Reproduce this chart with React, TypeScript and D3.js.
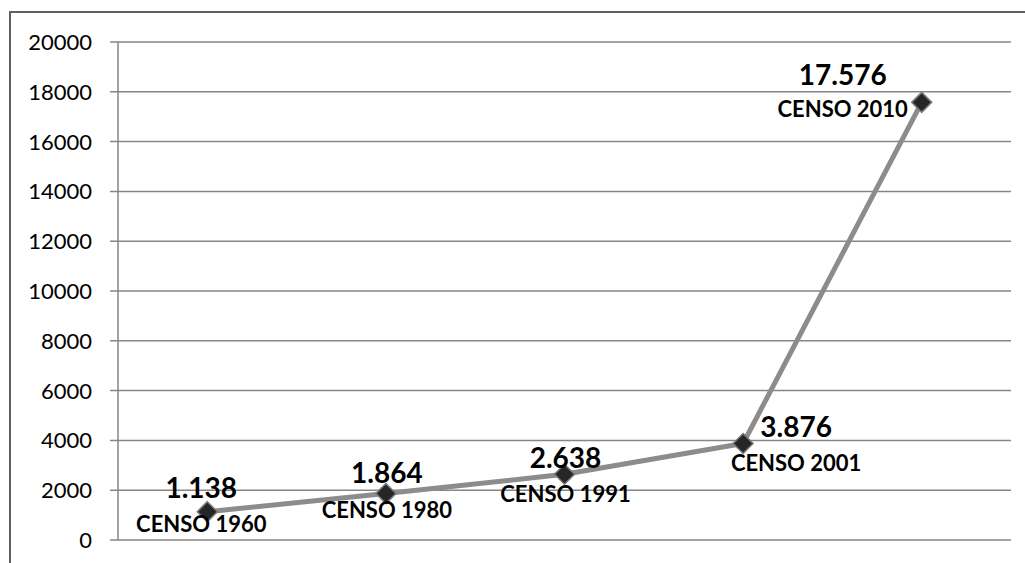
import React from "react";
import * as d3 from "d3";

const categories = ["CENSO 1960", "CENSO 1980", "CENSO 1991", "CENSO 2001", "CENSO 2010"];
const values = [1138, 1864, 2638, 3876, 17576];
const valueLabels = ["1.138", "1.864", "2.638", "3.876", "17.576"];
const yTicks = [0, 2000, 4000, 6000, 8000, 10000, 12000, 14000, 16000, 18000, 20000];

// label placement (layout, relative to each point)
const labelDx = [-6, 1, 1, 53, -79];
const valueDy = [-14, -11, -6, -6.5, -17];
const catDy = [20, 24, 28, 27.5, 15];

export default function App() {
  const W = 1025, H = 563;
  const left = 118, right = 1011, top = 42, bottom = 540;
  const x = d3.scaleBand<string>().domain(categories).range([left, right]);
  const y = d3.scaleLinear().domain([0, 20000]).range([bottom, top]);
  const px = (i: number) => (x(categories[i]) as number) + x.bandwidth() / 2;
  const line = d3.line<number>().x((_, i) => px(i)).y((d) => y(d));
  const font = "Lato, 'Liberation Sans', sans-serif";

  return (
    <svg width={W} height={H} style={{ position: "absolute", left: 0, top: 0 }}>
      <rect x={0} y={0} width={W} height={H} fill="#fff" />
      <path d={`M10,${H + 2} L10,12 L${W + 2},12`} fill="none" stroke="#606060" strokeWidth={2} />
      {yTicks.map((t) => (
        <g key={t}>
          <line x1={110} x2={right} y1={y(t)} y2={y(t)} stroke="#868686" strokeWidth={1.5} />
          <text x={92} y={y(t) + 8} textAnchor="end" fontFamily={font} fontSize={22} fill="#000">
            {t}
          </text>
        </g>
      ))}
      <line x1={left} x2={left} y1={top} y2={bottom} stroke="#868686" strokeWidth={1.5} />
      <path d={line(values) as string} fill="none" stroke="#8c8c8c" strokeWidth={5} strokeLinejoin="round" />
      {values.map((v, i) => {
        const cx = px(i), cy = y(v);
        const r = 10;
        return (
          <path
            key={i}
            d={`M${cx},${cy - r} L${cx + r},${cy} L${cx},${cy + r} L${cx - r},${cy} Z`}
            fill="#262626"
            stroke="#7a7a7a"
            strokeWidth={1.5}
          />
        );
      })}
      {values.map((v, i) => {
        const cx = px(i) + labelDx[i], cy = y(v);
        return (
          <g key={i} fontFamily={font} fontWeight="bold" fill="#000" textAnchor="middle">
            <text x={cx} y={cy + valueDy[i]} fontSize={28}>{valueLabels[i]}</text>
            <text x={cx} y={cy + catDy[i]} fontSize={22}>{categories[i]}</text>
          </g>
        );
      })}
    </svg>
  );
}
